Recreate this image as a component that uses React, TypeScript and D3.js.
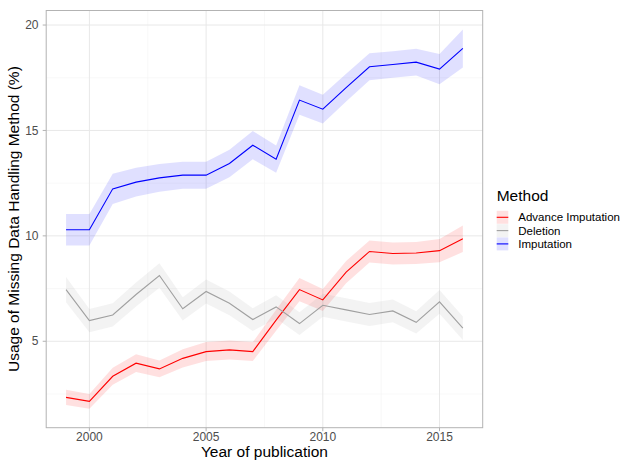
import React from "react";
import * as d3 from "d3";

const years = [1999, 2000, 2001, 2002, 2003, 2004, 2005, 2006, 2007, 2008, 2009, 2010, 2011, 2012, 2013, 2014, 2015, 2016];
const methods = ["Advance Imputation", "Deletion", "Imputation"];
const advanceValues = [2.34, 2.15, 3.34, 3.96, 3.69, 4.19, 4.51, 4.59, 4.51, 6.0, 7.45, 6.96, 8.28, 9.26, 9.16, 9.19, 9.3, 9.86];
const advanceHalf = [0.36, 0.35, 0.4, 0.42, 0.4, 0.43, 0.45, 0.45, 0.45, 0.5, 0.55, 0.52, 0.53, 0.52, 0.52, 0.52, 0.55, 0.63];
const deletionValues = [7.45, 5.98, 6.25, 7.22, 8.12, 6.54, 7.36, 6.8, 6.03, 6.63, 5.84, 6.71, 6.49, 6.27, 6.44, 5.9, 6.87, 5.62];
const deletionHalf = [0.6, 0.55, 0.55, 0.57, 0.58, 0.55, 0.57, 0.56, 0.54, 0.55, 0.54, 0.55, 0.55, 0.54, 0.54, 0.53, 0.56, 0.56];
const imputationValues = [10.29, 10.29, 12.23, 12.55, 12.75, 12.88, 12.88, 13.43, 14.3, 13.64, 16.44, 16.01, 17.03, 18.02, 18.13, 18.24, 17.91, 18.89];
const imputationHalf = [0.75, 0.75, 0.72, 0.68, 0.66, 0.64, 0.64, 0.65, 0.67, 0.65, 0.7, 0.68, 0.66, 0.64, 0.63, 0.63, 0.72, 0.9];
const xTicks = [2000, 2005, 2010, 2015];
const xMinor = [2002.5, 2007.5, 2012.5];
const yTicks = [5, 10, 15, 20];
const yMinor = [2.5, 7.5, 12.5, 17.5];
const colors = ["#ff0000", "#a0a0a0", "#0000ff"];

const FONT = "'Liberation Sans', Arial, Helvetica, sans-serif";

export default function App() {
  const W = 631, H = 461;
  const panel = { left: 46.2, right: 482.7, top: 10.5, bottom: 427.7 };
  const series = [
    { name: methods[0], values: advanceValues, half: advanceHalf, color: colors[0] },
    { name: methods[1], values: deletionValues, half: deletionHalf, color: colors[1] },
    { name: methods[2], values: imputationValues, half: imputationHalf, color: colors[2] },
  ];
  const allLo = series.flatMap((s) => s.values.map((v, i) => v - s.half[i]));
  const allHi = series.flatMap((s) => s.values.map((v, i) => v + s.half[i]));
  const yMin = d3.min(allLo)!, yMax = d3.max(allHi)!;
  const yPad = (yMax - yMin) * 0.05;
  const xMin = d3.min(years)!, xMax = d3.max(years)!;
  const xPad = (xMax - xMin) * 0.05;
  const x = d3.scaleLinear().domain([xMin - xPad, xMax + xPad]).range([panel.left, panel.right]);
  const y = d3.scaleLinear().domain([yMin - yPad, yMax + yPad]).range([panel.bottom, panel.top]);

  const line = d3.line<number>().x((_, i) => x(years[i])).y((v) => y(v));
  const area = (vals: number[], half: number[]) =>
    d3.area<number>().x((_, i) => x(years[i])).y0((v, i) => y(v - half[i])).y1((v, i) => y(v + half[i]))(vals) || "";

  const legendX = 496.7;
  const legendRowY = [217.3, 230.6, 243.9];

  return (
    <svg width={W} height={H} style={{ position: "absolute", left: 0, top: 0, background: "#fff" }} fontFamily={FONT}>
      <rect x={0} y={0} width={W} height={H} fill="#fff" />
      {/* minor grid */}
      {xMinor.map((t) => (
        <line key={"xm" + t} x1={x(t)} x2={x(t)} y1={panel.top} y2={panel.bottom} stroke="#f3f3f3" strokeWidth={0.6} />
      ))}
      {yMinor.map((t) => (
        <line key={"ym" + t} y1={y(t)} y2={y(t)} x1={panel.left} x2={panel.right} stroke="#f3f3f3" strokeWidth={0.6} />
      ))}
      {/* major grid */}
      {xTicks.map((t) => (
        <line key={"xg" + t} x1={x(t)} x2={x(t)} y1={panel.top} y2={panel.bottom} stroke="#e8e8e8" strokeWidth={1} />
      ))}
      {yTicks.map((t) => (
        <line key={"yg" + t} y1={y(t)} y2={y(t)} x1={panel.left} x2={panel.right} stroke="#e8e8e8" strokeWidth={1} />
      ))}
      {/* ribbons */}
      {series.map((s) => (
        <path key={"r" + s.name} d={area(s.values, s.half)} fill={s.color} fillOpacity={0.12} />
      ))}
      {/* lines */}
      {series.map((s) => (
        <path key={"l" + s.name} d={line(s.values) || ""} fill="none" stroke={s.color} strokeWidth={1.1} />
      ))}
      {/* panel border */}
      <rect x={panel.left} y={panel.top} width={panel.right - panel.left} height={panel.bottom - panel.top} fill="none" stroke="#b3b3b3" strokeWidth={1} />
      {/* x ticks */}
      {xTicks.map((t) => (
        <g key={"xt" + t}>
          <line x1={x(t)} x2={x(t)} y1={panel.bottom} y2={panel.bottom + 3.5} stroke="#b3b3b3" strokeWidth={1} />
          <text x={x(t)} y={441} textAnchor="middle" fontSize={12} fill="#4d4d4d">{t}</text>
        </g>
      ))}
      {yTicks.map((t) => (
        <g key={"yt" + t}>
          <line x1={panel.left - 3.5} x2={panel.left} y1={y(t)} y2={y(t)} stroke="#b3b3b3" strokeWidth={1} />
          <text x={38.5} y={y(t)} dy="0.35em" textAnchor="end" fontSize={12} fill="#4d4d4d">{t}</text>
        </g>
      ))}
      <text x={(panel.left + panel.right) / 2} y={456.5} textAnchor="middle" fontSize={15.5} fill="#000">Year of publication</text>
      <text transform={`translate(19,${(panel.top + panel.bottom) / 2}) rotate(-90)`} textAnchor="middle" fontSize={15.5} fill="#000">
        Usage of Missing Data Handling Method (%)
      </text>
      {/* legend */}
      <text x={legendX} y={201} fontSize={15.5} fill="#000">Method</text>
      {series.map((s, i) => (
        <g key={"lg" + s.name}>
          <rect x={legendX} y={legendRowY[i] - 6.5} width={11.6} height={13} fill={s.color} fillOpacity={0.12} />
          <line x1={legendX} x2={legendX + 11.6} y1={legendRowY[i]} y2={legendRowY[i]} stroke={s.color} strokeWidth={1.1} />
          <text x={518.3} y={legendRowY[i]} dy="0.35em" fontSize={11.5} fill="#000">{s.name}</text>
        </g>
      ))}
    </svg>
  );
}
